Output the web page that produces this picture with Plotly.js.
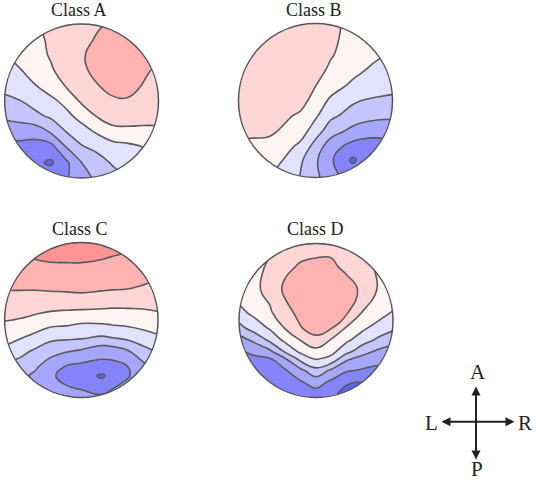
<!DOCTYPE html>
<html lang="en">
<head>
<meta charset="UTF-8">
<title>Class A-D topographic maps</title>
<script src="https://cdn.plot.ly/plotly-3.0.0.min.js" charset="utf-8"></script>
<style>
    body { margin: 0; background: white; }
    #plot { width: 536px; height: 483px; }
</style>
</head>
<body>
<div id="plot"></div>
<script>
    // Grid positions on the unit head circle, rows go from anterior to posterior
    const xEven = [-1, -0.8, -0.6, -0.4, -0.2, 0, 0.2, 0.4, 0.6, 0.8, 1];
    const yEven = [1, 0.8, 0.6, 0.4, 0.2, 0, -0.2, -0.4, -0.6, -0.8, -1];
    const xClassB = [-1, -0.8, -0.6, -0.4, -0.2, 0, 0.2, 0.48, 0.6, 0.8, 1];
    const yClassB = [1, 0.8, 0.6, 0.4, 0.2, 0, -0.2, -0.4, -0.6, -0.77, -1];
    const xClassC = [-1, -0.8, -0.6, -0.4, -0.2, 0, 0.27, 0.4, 0.6, 0.8, 1];
    const yClassC = [1, 0.8, 0.6, 0.4, 0.2, 0, -0.2, -0.4, -0.6, -0.72, -1];
    const yClassD = [1, 0.7, 0.4, 0.1, -0.1, -0.25, -0.4, -0.5, -0.65, -0.8, -1];

    const zClassA = [
        [0.4, 0.7, 0.95, 1.15, 1.4, 1.65, 1.9, 2.1, 2.3, 2.3, 2.2],
        [0.2, 0.5, 0.8, 1.13, 1.45, 1.77, 2.07, 2.4, 2.5, 2.4, 2.3],
        [-0.05, 0.3, 0.7, 1.08, 1.5, 1.9, 2.3, 2.6, 2.7, 2.55, 2.3],
        [-0.5, -0.05, 0.43, 0.9, 1.37, 1.82, 2.25, 2.6, 2.6, 2.2, 1.8],
        [-0.68, -0.35, -0.03, 0.5, 1.07, 1.5, 1.95, 2.3, 2.35, 1.95, 1.5],
        [-1.25, -1.03, -0.62, -0.25, 0.3, 1.15, 1.5, 1.85, 1.9, 1.6, 1.4],
        [-1.85, -1.6, -1.25, -0.85, -0.3, 0.35, 1.03, 1.4, 1.45, 1.4, 1.3],
        [-2.5, -2.6, -2.6, -1.9, -1, -0.45, 0.12, 0.7, 0.75, 0.72, 0.8],
        [-3.3, -3.3, -3.4, -3.4, -2, -1.1, -0.75, -0.45, -0.25, 0, 0.2],
        [-3.6, -3.7, -3.8, -4.15, -3.2, -2, -1.45, -0.9, -0.55, -0.3, -0.1],
        [-3.5, -3.5, -3.5, -3.4, -3.1, -2.4, -1.8, -1.4, -1, -0.6, -0.4]
    ];
    const zClassB = [
        [1.5, 1.55, 1.55, 1.5, 1.35, 1.2, 1.1, 0.89, 0.8, 0.65, 0.5],
        [1.7, 1.7, 1.65, 1.55, 1.4, 1.25, 1.1, 0.83, 0.7, 0.45, 0.2],
        [1.75, 1.75, 1.7, 1.6, 1.45, 1.25, 1.05, 0.73, 0.55, 0.2, -0.1],
        [1.75, 1.75, 1.7, 1.55, 1.35, 1.2, 0.9, 0.34, 0.1, -0.3, -0.55],
        [1.7, 1.65, 1.55, 1.4, 1.2, 1.03, 0.5, -0.19, -0.4, -0.65, -0.85],
        [1.6, 1.55, 1.5, 1.45, 1.35, 0.65, -0.2, -0.85, -1, -1.1, -1.1],
        [1.45, 1.35, 1.25, 1.15, 0.85, 0.15, -0.8, -1.39, -1.6, -1.75, -1.8],
        [1.2, 1.2, 1.15, 0.85, 0.5, -0.55, -1.55, -2.3, -2.5, -2.7, -2.7],
        [0.7, 0.75, 0.7, 0.35, -0.25, -1.4, -2.6, -3.35, -3.5, -3.4, -3.2],
        [0.4, 0.4, 0.3, -0.05, -0.8, -1.85, -2.85, -4.15, -3.8, -3.6, -3.3],
        [0.1, 0.1, 0, -0.35, -1.05, -1.75, -2.6, -3.45, -3.5, -3.3, -3]
    ];
    const zClassC = [
        [3.3, 3.4, 3.5, 3.6, 3.6, 3.6, 3.55, 3.45, 3.3, 2.9, 2.7],
        [3, 2.95, 3.05, 3.15, 3.15, 3.15, 3.05, 2.95, 2.8, 2.6, 2.4],
        [2.5, 2.5, 2.55, 2.6, 2.65, 2.65, 2.55, 2.5, 2.4, 2.3, 2.15],
        [2.05, 2.05, 2.05, 2.1, 2.15, 2.2, 2.1, 2.05, 2, 1.9, 1.75],
        [1.55, 1.5, 1.45, 1.4, 1.35, 1.4, 1.27, 1.2, 1.2, 1.2, 1.27],
        [1.05, 0.95, 0.75, 0.5, 0.4, 0.2, 0.3, 0.35, 0.4, 0.5, 0.67],
        [0.4, 0.2, -0.16, -0.6, -0.65, -0.68, -0.93, -0.75, -0.55, -0.3, -0.05],
        [-0.2, -0.7, -1.15, -1.65, -1.9, -2.13, -2.6, -2.5, -2.1, -1.35, -0.9],
        [-1.2, -1.4, -1.85, -2.5, -3.05, -3.25, -3.35, -3.35, -3.02, -2.3, -1.7],
        [-1.7, -1.75, -2.2, -2.85, -3.3, -3.55, -4.15, -3.65, -3.1, -2.5, -2.05],
        [-2.4, -2.4, -2.5, -2.7, -2.6, -2.7, -2.8, -2.6, -2.4, -2.2, -2]
    ];
    const zClassD = [
        [0.4, 0.6, 0.8, 1.4, 1.6, 1.75, 1.75, 1.6, 1.3, 0.6, 0.3],
        [0.45, 0.7, 1.15, 1.8, 2.1, 2.15, 2.15, 1.8, 1.6, 0.8, 0.4],
        [0.5, 0.8, 1.3, 2.2, 2.4, 2.5, 2.5, 2.35, 1.85, 0.95, 0.55],
        [-0.3, 0.25, 0.85, 1.7, 2.25, 2.45, 2.4, 2.1, 0.95, 0.5, -0.05],
        [-1.36, -0.55, 0.1, 1.05, 1.95, 2.35, 2.03, 0.85, 0.2, -0.4, -0.8],
        [-2.4, -1.75, -0.75, 0.28, 1.05, 1.77, 0.93, 0.2, -0.5, -1.15, -1.7],
        [-3.1, -2.75, -2.2, -0.83, 0.25, 0.69, 0.3, -0.65, -1.6, -2.15, -2.4],
        [-3.3, -3.2, -3.1, -2.1, -0.7, 0.07, -0.3, -1.85, -2.35, -2.75, -2.85],
        [-3.5, -3.5, -3.5, -3.1, -2.25, -1.33, -2.2, -2.9, -3.1, -3.2, -3.15],
        [-3.6, -3.6, -3.65, -3.4, -3.1, -2.6, -3.2, -3.85, -3.95, -3.5, -3.3],
        [-3.7, -3.7, -3.7, -3.6, -3.5, -3.6, -3.8, -4.6, -4.7, -3.7, -3.4]
    ];

    const classNames = ['Class A', 'Class B', 'Class C', 'Class D'];
    const compassLabels = ['A', 'L', 'R', 'P'];

    // Band colours, one per unit of z from -5 to 4
    const bandColours = ['#6060ff', '#8484ff', '#a6a6ff', '#c4c4ff', '#e2e2ff',
                         '#fff4f4', '#ffd6d6', '#ffb2b2', '#ff9494'];

    const W = 536, H = 483;
    const PAD = 1.06;

    // Pixel position of each head circle
    const panels = [
        { cx: 81.5, cy: 101, r: 77, titleX: 79, titleY: 10, x: xEven, y: yEven, z: zClassA },
        { cx: 315.5, cy: 100.5, r: 77, titleX: 314, titleY: 10, x: xClassB, y: yClassB, z: zClassB },
        { cx: 80.5, cy: 320, r: 77.5, titleX: 79.5, titleY: 229, x: xClassC, y: yClassC, z: zClassC },
        { cx: 316, cy: 320.5, r: 77, titleX: 315, titleY: 229, x: xEven, y: yClassD, z: zClassD }
    ];

    const colorscale = bandColours.map((c, i) => [i / (bandColours.length - 1), c]);

    // White sheet with a round hole, hides the grid outside the head
    function maskPath() {
        let p = `M${-PAD},${-PAD}L${PAD},${-PAD}L${PAD},${PAD}L${-PAD},${PAD}Z`;
        for (let i = 0; i < 120; i++) {
            const a = i / 120 * 2 * Math.PI;
            p += (i === 0 ? 'M' : 'L') + Math.cos(a).toFixed(4) + ',' + Math.sin(a).toFixed(4);
        }
        return p + 'Z';
    }

    const traces = [];
    const layout = {
        width: W,
        height: H,
        margin: { l: 0, r: 0, t: 0, b: 0 },
        paper_bgcolor: 'white',
        plot_bgcolor: 'white',
        showlegend: false,
        shapes: [],
        annotations: []
    };
    const serif = { family: '"Liberation Serif", serif', size: 18, color: '#222222' };

    panels.forEach((p, i) => {
        const n = i === 0 ? '' : String(i + 1);
        traces.push({
            type: 'contour',
            x: p.x,
            y: p.y,
            z: p.z,
            xaxis: 'x' + n,
            yaxis: 'y' + n,
            zmin: -4.5,
            zmax: 3.5,
            zauto: false,
            colorscale: colorscale,
            showscale: false,
            hoverinfo: 'skip',
            autocontour: false,
            contours: { start: -4, end: 3, size: 1, coloring: 'fill' },
            line: { color: '#5a5a5a', width: 1.6, smoothing: 1.3 }
        });
        const half = p.r * PAD;
        const axis = { visible: false, range: [-PAD, PAD], fixedrange: true };
        layout['xaxis' + n] = Object.assign({}, axis, {
            domain: [(p.cx - half) / W, (p.cx + half) / W], anchor: 'y' + n
        });
        layout['yaxis' + n] = Object.assign({}, axis, {
            domain: [1 - (p.cy + half) / H, 1 - (p.cy - half) / H], anchor: 'x' + n
        });
        layout.shapes.push({
            type: 'path', xref: 'x' + n, yref: 'y' + n, path: maskPath(),
            fillcolor: 'white', fillrule: 'evenodd', line: { width: 0 }
        });
        layout.shapes.push({
            type: 'circle', xref: 'x' + n, yref: 'y' + n, x0: -1, x1: 1, y0: -1, y1: 1,
            line: { color: '#555555', width: 1.5 }
        });
        layout.annotations.push({
            text: classNames[i], xref: 'paper', yref: 'paper',
            x: p.titleX / W, y: 1 - p.titleY / H,
            xanchor: 'center', yanchor: 'middle', showarrow: false, font: serif
        });
    });

    // Compass in the lower right corner
    const compassAt = [[477.5, 372], [431.5, 423], [524.5, 422.5], [477, 469]];
    compassLabels.forEach((t, i) => {
        layout.annotations.push({
            text: t, xref: 'paper', yref: 'paper',
            x: compassAt[i][0] / W, y: 1 - compassAt[i][1] / H,
            xanchor: 'center', yanchor: 'middle', showarrow: false,
            font: { family: serif.family, size: 21, color: '#222222' }
        });
    });
    const arrowStyle = {
        text: '', xref: 'paper', yref: 'paper', showarrow: true,
        arrowside: 'end+start', arrowhead: 2, arrowsize: 0.9, arrowwidth: 2, arrowcolor: '#222222'
    };
    layout.annotations.push(Object.assign({}, arrowStyle, {
        x: 514.5 / W, y: 1 - 421.7 / H, ax: -74.5, ay: 0
    }));
    layout.annotations.push(Object.assign({}, arrowStyle, {
        x: 476 / W, y: 1 - 459.5 / H, ax: 0, ay: -74.5
    }));

    Plotly.newPlot('plot', traces, layout, { staticPlot: true });
</script>
</body>
</html>
